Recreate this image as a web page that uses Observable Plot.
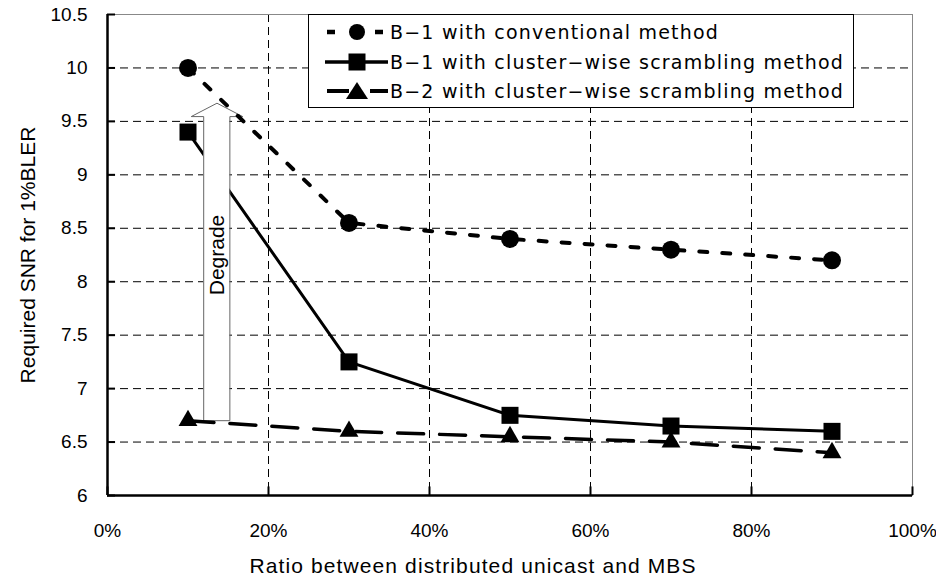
<!DOCTYPE html>
<html><head><meta charset="utf-8">
<script src="https://cdn.jsdelivr.net/npm/d3@7"></script>
<script src="https://cdn.jsdelivr.net/npm/@observablehq/plot@0.6"></script>
<style>
body{margin:0;background:#fff;}
#wrap{position:relative;width:936px;height:580px;background:#fff;overflow:hidden;}
#legend{position:absolute;left:308px;top:14px;}
</style></head><body><div id="wrap"></div>
<script>
const xValues = [10, 30, 50, 70, 90];
const seriesNames = [
  "B\u22121 with conventional method",
  "B\u22121 with cluster\u2212wise scrambling method",
  "B\u22122 with cluster\u2212wise scrambling method"
];
const conventionalB1 = [10.0, 8.55, 8.4, 8.3, 8.2];
const clusterB1 = [9.4, 7.25, 6.75, 6.65, 6.6];
const clusterB2 = [6.7, 6.6, 6.55, 6.5, 6.4];
const xTicks = [0, 20, 40, 60, 80, 100];
const yTicks = [6, 6.5, 7, 7.5, 8, 8.5, 9, 9.5, 10, 10.5];
const xTitle = "Ratio between distributed unicast and MBS";
const yTitle = "Required SNR for 1%BLER";
const arrowLabel = "Degrade";
// block arrow annotation (data units)
const arrowBodyX = [11.95, 15.2];
const arrowBodyY = [6.70, 9.545];
const arrowHeadX = [10.4, 13.6, 16.8];
const arrowHeadY = [9.545, 9.67, 9.545];
const arrowLabelY = 8.25;

const tbl = (ys) => xValues.map((x, i) => ({x, y: ys[i]}));
const s1 = tbl(conventionalB1), s2 = tbl(clusterB1), s3 = tbl(clusterB2);
const outline = [
  {x: arrowBodyX[0], y: arrowBodyY[0]},
  {x: arrowBodyX[0], y: arrowBodyY[1]},
  {x: arrowHeadX[0], y: arrowHeadY[0]},
  {x: arrowHeadX[1], y: arrowHeadY[1]},
  {x: arrowHeadX[2], y: arrowHeadY[2]},
  {x: arrowBodyX[1], y: arrowBodyY[1]},
  {x: arrowBodyX[1], y: arrowBodyY[0]},
  {x: arrowBodyX[0], y: arrowBodyY[0]}
];
const head = arrowHeadX.map((x, i) => ({x, y: arrowHeadY[i]}));
const sansFont = "'Liberation Sans', Arial, sans-serif";
const legendFont = "'DejaVu Sans', sans-serif";

const chart = Plot.plot({
  width: 936, height: 580,
  marginLeft: 107, marginRight: 24, marginTop: 14, marginBottom: 85,
  x: {domain: [0, 100], label: null},
  y: {domain: [6, 10.5], label: null},
  style: {fontFamily: sansFont, fontSize: "19px", color: "#000", background: "#fff"},
  marks: [
    Plot.ruleX(xTicks.slice(1, -1), {stroke: "#000", strokeWidth: 1, strokeDasharray: "8,5"}),
    Plot.ruleY(yTicks.slice(1, -1), {stroke: "#000", strokeWidth: 1, strokeDasharray: "8,5"}),
    Plot.line(s2, {x: "x", y: "y", stroke: "#000", strokeWidth: 3}),
    Plot.rect([0], {x1: arrowBodyX[0], x2: arrowBodyX[1], y1: arrowBodyY[0], y2: arrowBodyY[1], fill: "#fff"}),
    Plot.areaY(head, {x: "x", y1: arrowHeadY[0], y2: "y", fill: "#fff"}),
    Plot.line(outline, {x: "x", y: "y", stroke: "#666", strokeWidth: 1}),
    Plot.text([arrowLabel], {x: (arrowBodyX[0] + arrowBodyX[1]) / 2, y: arrowLabelY, rotate: -90, fontSize: 21, fontFamily: sansFont}),
    Plot.line(s1, {x: "x", y: "y", stroke: "#000", strokeWidth: 4, strokeDasharray: "8,15"}),
    Plot.line(s3, {x: "x", y: "y", stroke: "#000", strokeWidth: 3.5, strokeDasharray: "26,16"}),
    Plot.dot(s1, {x: "x", y: "y", r: 9, fill: "#000", symbol: "circle"}),
    Plot.dot(s2, {x: "x", y: "y", r: 9.6, fill: "#000", symbol: "square"}),
    Plot.dot(s3, {x: "x", y: "y", r: 7, fill: "#000", symbol: "triangle"}),
    Plot.frame({stroke: "#888", strokeWidth: 1}),
    Plot.ruleX(xTicks, {y1: 6, y2: 6.08, stroke: "#000", strokeWidth: 2}),
    Plot.ruleY(yTicks, {x1: 0, x2: 1.0, stroke: "#000", strokeWidth: 2}),
    Plot.ruleX([0], {stroke: "#000", strokeWidth: 2.5}),
    Plot.ruleY([6], {stroke: "#000", strokeWidth: 2.5}),
    Plot.axisX(xTicks, {tickSize: 0, tickPadding: 28, tickFormat: d => d + "%", fontSize: 19, fontFamily: sansFont, label: null}),
    Plot.axisY(yTicks, {tickSize: 0, tickPadding: 20, tickFormat: d => String(d), fontSize: 19, fontFamily: sansFont, label: null}),
    Plot.text([yTitle], {frameAnchor: "left", textAnchor: "middle", lineAnchor: "middle", dx: -79, rotate: -90, fontSize: 21, fontFamily: sansFont}),
    Plot.text([xTitle], {frameAnchor: "bottom", textAnchor: "middle", lineAnchor: "middle", dx: -37, dy: 71, fontSize: 21, fontFamily: sansFont, className: "xtitle"})
  ]
});
const wrap = document.getElementById("wrap");
wrap.appendChild(chart);

// widen the x title to the reference width via letter spacing
const xt = chart.querySelector(".xtitle text");
if (xt) {
  const w = xt.getComputedTextLength();
  xt.style.letterSpacing = ((447 - w) / xTitle.length).toFixed(2) + "px";
}

// legend overlay
const lg = d3.select(wrap).append("svg").attr("id", "legend")
  .attr("width", 547).attr("height", 95);
lg.append("rect").attr("x", 0.5).attr("y", 0.5).attr("width", 545).attr("height", 93)
  .attr("fill", "#fff").attr("stroke", "#000").attr("stroke-width", 1);
const rowsY = [18, 48, 77];
const symX = 49;
// row 1: dotted with circle
lg.append("line").attr("x1", 19).attr("x2", 80).attr("y1", rowsY[0]).attr("y2", rowsY[0])
  .attr("stroke", "#000").attr("stroke-width", 4.5).attr("stroke-dasharray", "8,40");
lg.append("circle").attr("cx", symX).attr("cy", rowsY[0]).attr("r", 8);
// row 2: solid with square
lg.append("line").attr("x1", 17).attr("x2", 80).attr("y1", rowsY[1]).attr("y2", rowsY[1])
  .attr("stroke", "#000").attr("stroke-width", 3.5);
lg.append("rect").attr("x", symX - 8.5).attr("y", rowsY[1] - 8.5).attr("width", 17).attr("height", 17);
// row 3: dashed with triangle
lg.append("line").attr("x1", 19).attr("x2", 80).attr("y1", rowsY[2]).attr("y2", rowsY[2])
  .attr("stroke", "#000").attr("stroke-width", 4).attr("stroke-dasharray", "22,21,18");
lg.append("path").attr("d", `M${symX - 11},${rowsY[2] + 8}L${symX},${rowsY[2] - 9}L${symX + 11},${rowsY[2] + 8}Z`);
const texts = seriesNames.map((n, i) =>
  lg.append("text").attr("x", 82).attr("y", rowsY[i]).attr("dy", "0.36em")
    .attr("font-family", legendFont).attr("font-size", 19).text(n));
// stretch letter spacing so the longest entry spans the reference width
const natural = texts[1].node().getComputedTextLength();
const ls = (454 - natural) / seriesNames[1].length;
texts.forEach(t => t.style("letter-spacing", ls.toFixed(2) + "px"));
</script></body></html>
